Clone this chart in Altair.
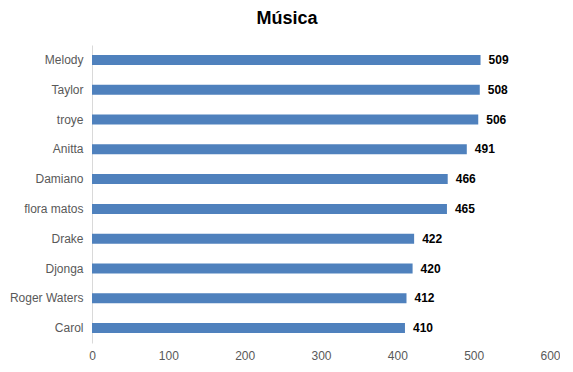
import altair as alt
import pandas as pd

names = ["Melody", "Taylor", "troye", "Anitta", "Damiano", "flora matos",
         "Drake", "Djonga", "Roger Waters", "Carol"]
values = [509, 508, 506, 491, 466, 465, 422, 420, 412, 410]

df = pd.DataFrame({"name": names, "value": values})

y_enc = alt.Y("name:N", sort=names, title=None,
              axis=alt.Axis(domainColor="#D9D9D9", ticks=False, labelColor="#595959",
                            labelFontSize=12, labelPadding=9, labelFont="Liberation Sans"))
x_enc = alt.X("value:Q", title=None, scale=alt.Scale(domain=[0, 600]),
              axis=alt.Axis(values=[0, 100, 200, 300, 400, 500, 600], domain=False, ticks=False,
                            grid=False, labelColor="#595959", labelFontSize=12, labelFlush=False,
                            labelPadding=7, labelFont="Liberation Sans"))

bars = alt.Chart(df).mark_bar(color="#4F81BD", size=10).encode(x=x_enc, y=y_enc)
labels = alt.Chart(df).mark_text(align="left", baseline="middle", dx=8, fontWeight="bold",
                                 fontSize=12, font="Liberation Sans", color="#000000").encode(
    x="value:Q", y=alt.Y("name:N", sort=names), text="value:Q")

chart = (bars + labels).properties(
    width=458, height=298,
    title=alt.TitleParams("Música", fontSize=18, fontWeight="bold", font="Liberation Sans",
                          color="#000000", anchor="middle", offset=17, dx=-34),
    autosize=alt.AutoSizeParams(type="none"),
    padding={"left": 84, "top": 37, "right": 10, "bottom": 20},
).configure_view(stroke=None)

chart.save("out.html", embed_options={"renderer": "svg", "actions": False})
